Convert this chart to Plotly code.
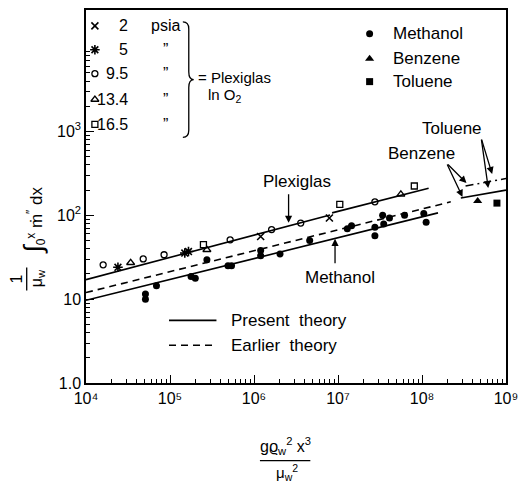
import plotly.graph_objects as go

# ---------------- data ----------------
# Plexiglas in O2, by pressure (psia)
plex_2_x = [1.2e6, 7.9e6]
plex_2_y = [56, 93]
plex_5_x = [2.4e4, 1.5e5, 1.66e5]
plex_5_y = [24, 35.5, 37]
plex_95_x = [1.6e4, 4.8e4, 8.5e4, 5.2e5, 1.62e6, 3.6e6, 2.75e7]
plex_95_y = [25.7, 30.2, 33.9, 51, 67.6, 81, 145]
plex_134_x = [3.4e4, 2.75e5, 5.6e7]
plex_134_y = [27.2, 38.9, 178]
plex_165_x = [2.5e5, 1.05e7, 8.1e7]
plex_165_y = [44.7, 135, 224]

# liquids
meth_x = [5.1e4, 5.1e4, 6.9e4, 1.78e5, 2.0e5, 2.75e5, 4.9e5, 5.4e5, 1.2e6, 1.2e6,
          2.04e6, 4.6e6, 1.29e7, 1.45e7, 2.75e7, 2.75e7, 3.4e7, 4.1e7, 3.5e7,
          6.2e7, 1.05e8, 1.12e8]
meth_y = [10, 11.5, 14.5, 18.6, 17.8, 29.5, 25.1, 25.1, 38, 33,
          34.7, 50, 69, 75, 72, 57, 100, 93, 79,
          100, 105, 83]
benz_x = [4.6e8]
benz_y = [148]
tol_x = [7.8e8]
tol_y = [140]

# theory lines (end points)
plex_present1_x = [1e4, 8.05e6]
plex_present1_y = [17.1, 101]
plex_present2_x = [8.5e6, 1.2e8]
plex_present2_y = [107, 211]
meth_present_x = [1e4, 1.55e8]
meth_present_y = [9.7, 107]
earlier_x = [1e4, 2.2e8]
earlier_y = [12, 145]
bt_present_x = [2.9e8, 1e9]
bt_present_y = [161, 200]
bt_earlier_x = [3.3e8, 1e9]
bt_earlier_y = [224, 275]

x_decades = [1e4, 1e5, 1e6, 1e7, 1e8, 1e9]
x_ticktext = ["10\u2074", "10\u2075", "10\u2076", "10\u2077", "10\u2078", "10\u2079"]
y_decades = [1, 10, 100, 1000]
y_ticktext = ["1.0", "10", "10<sup>2</sup>", "10<sup>3</sup>"]

psia_labels = ["2", "5", "9.5", "13.4", "16.5"]
psia_units = ["psia", "\u201d", "\u201d", "\u201d", "\u201d"]
liquid_labels = ["Methanol", "Benzene", "Toluene"]
theory_labels = ["Present  theory", "Earlier  theory"]

# ---------------- styling / layout helpers ----------------
FONT = "Liberation Sans"
W, H = 526, 491
L, R, T, B = 86, 511, 8, 383  # frame in pixels
XR = [4, 9]        # log10 range of x
YR = [0, 4.45]     # log10 range of y


def px(x):
    return (x - L) / (R - L)


def py(y):
    return (B - y) / (B - T)


def key_x(p):  # pixel column -> axis value (for legend keys)
    return 10 ** (XR[0] + px(p) * (XR[1] - XR[0]))


def key_y(p):  # pixel row -> axis value (for legend keys)
    return 10 ** (YR[0] + py(p) * (YR[1] - YR[0]))


def minor_of(decades):
    return [d * k for d in decades for k in range(2, 10)]


fig = go.Figure()

line_solid = dict(color="black", width=1.6)
line_dash = dict(color="black", width=1.6, dash="7px,5px")
line_dashdot = dict(color="black", width=1.4, dash="8px,4px,2px,4px")

for xs, ys, ln in [
    (plex_present1_x, plex_present1_y, line_solid),
    (plex_present2_x, plex_present2_y, line_solid),
    (meth_present_x, meth_present_y, line_solid),
    (earlier_x, earlier_y, line_dash),
    (bt_present_x, bt_present_y, line_solid),
    (bt_earlier_x, bt_earlier_y, line_dashdot),
]:
    fig.add_trace(go.Scatter(x=xs, y=ys, mode="lines", line=ln,
                             showlegend=False, hoverinfo="skip"))

sym = {
    "p2": dict(symbol="x-thin", size=7, line=dict(width=1.6, color="black"), color="black"),
    "p5": dict(symbol="asterisk-open", size=8, line=dict(width=1.6, color="black"), color="black"),
    "p95": dict(symbol="circle-open", size=6, line=dict(width=1.3, color="black"), color="black"),
    "p134": dict(symbol="triangle-up-open", size=7, line=dict(width=1.3, color="black"), color="black"),
    "p165": dict(symbol="square-open", size=6, line=dict(width=1.3, color="black"), color="black"),
    "meth": dict(symbol="circle", size=7, color="black"),
    "benz": dict(symbol="triangle-up", size=8, color="black"),
    "tol": dict(symbol="square", size=7, color="black"),
}

for xs, ys, key in [
    (plex_2_x, plex_2_y, "p2"), (plex_5_x, plex_5_y, "p5"),
    (plex_95_x, plex_95_y, "p95"), (plex_134_x, plex_134_y, "p134"),
    (plex_165_x, plex_165_y, "p165"), (meth_x, meth_y, "meth"),
    (benz_x, benz_y, "benz"), (tol_x, tol_y, "tol"),
]:
    fig.add_trace(go.Scatter(x=xs, y=ys, mode="markers", marker=sym[key],
                             showlegend=False, hoverinfo="skip"))

# ---------------- legend keys ----------------
psia_key_y = [24, 48, 72, 98, 123]
for key, yk in zip(["p2", "p5", "p95", "p134", "p165"], psia_key_y):
    fig.add_trace(go.Scatter(x=[key_x(95)], y=[key_y(yk)], mode="markers", marker=sym[key],
                             showlegend=False, hoverinfo="skip"))
liq_key_y = [32, 57, 80]
for key, yk in zip(["meth", "benz", "tol"], liq_key_y):
    fig.add_trace(go.Scatter(x=[key_x(373)], y=[key_y(yk)], mode="markers", marker=sym[key],
                             showlegend=False, hoverinfo="skip"))
for yk, ln in [(320, line_solid), (345, line_dash)]:
    fig.add_trace(go.Scatter(x=[key_x(170), key_x(218)], y=[key_y(yk)] * 2, mode="lines",
                             line=ln, showlegend=False, hoverinfo="skip"))

ann = []


def text(x, y, s, size=16, xanchor="center", angle=0):
    ann.append(dict(x=px(x), y=py(y), xref="paper", yref="paper", text=s,
                    showarrow=False, xanchor=xanchor, yanchor="middle",
                    textangle=angle, font=dict(family=FONT, size=size, color="black")))


def arrow(hx, hy, tx, ty):
    ann.append(dict(x=px(hx), y=py(hy), xref="paper", yref="paper", text="",
                    showarrow=True, ax=tx - hx, ay=ty - hy, axref="pixel", ayref="pixel",
                    arrowhead=2, arrowsize=1.1, arrowwidth=1.3, arrowcolor="black",
                    standoff=0))


for lab, unit, yk in zip(psia_labels, psia_units, psia_key_y):
    text(131, yk, lab, size=16, xanchor="right")
    text(166, yk, unit, size=16)
text(197, 76, "= Plexiglas", size=15, xanchor="left")
text(207, 94, "ln O<sub>2</sub>", size=15, xanchor="left")
for lab, yk in zip(liquid_labels, liq_key_y):
    text(395, yk, lab, size=17, xanchor="left")
for lab, yk in zip(theory_labels, [320, 345]):
    text(231, yk, lab, size=17, xanchor="left")

text(300, 180, "Plexiglas", size=17)
arrow(291, 222, 291, 192)
text(343, 277, "Methanol", size=17)
arrow(338, 238, 338, 264)
text(425, 152, "Benzene", size=17)
arrow(471, 182, 451, 162)
arrow(467, 196, 451, 162)
text(456, 127, "Toluene", size=17)
arrow(497, 173, 486, 137)
arrow(493, 187, 486, 137)

# x-axis title as a fraction
text(288, 446, "g\u03f1<sub>w</sub><sup>2</sup> x<sup>3</sup>", size=16)
text(289, 473, "\u03bc<sub>w</sub><sup>2</sup>", size=15)
# y-axis title (rotated)
text(16, 278, "1", size=16, angle=-90)
text(37, 278, "\u03bc<sub>w</sub>", size=16, angle=-90)
text(33, 220, "<span style='font-size:26px'>\u222b</span><sub>0</sub><sup>x</sup> "
     "\u1e41<sup>\u2033</sup> dx", size=17, angle=-90)


def brace_path():
    pts = [("M", 184, 20), ("Q", 190, 20, 190, 27), ("L", 190, 70),
           ("Q", 190, 78, 195, 78), ("Q", 190, 78, 190, 86), ("L", 190, 129),
           ("Q", 190, 136, 184, 136)]
    out = []
    for p in pts:
        cmd, coords = p[0], p[1:]
        conv = []
        for i in range(0, len(coords), 2):
            conv.append(f"{px(coords[i]):.5f},{py(coords[i + 1]):.5f}")
        out.append(cmd + " " + " ".join(conv))
    return " ".join(out)


shapes = [
    dict(type="line", xref="paper", yref="paper", x0=px(262), x1=px(313),
         y0=py(461), y1=py(461), line=dict(color="black", width=1.3)),
    dict(type="line", xref="paper", yref="paper", x0=px(26), x1=px(26),
         y0=py(267), y1=py(290), line=dict(color="black", width=1.3)),
    dict(type="path", xref="paper", yref="paper", path=brace_path(),
         line=dict(color="black", width=1.3)),
]

axis_common = dict(
    type="log", showgrid=False, zeroline=False, showline=True, linecolor="black",
    linewidth=1.5, mirror=True, ticks="inside", ticklen=8, tickwidth=1.3,
    tickcolor="black", tickfont=dict(family=FONT, size=16, color="black"),
    ticklabeloverflow="allow",
)
minor_common = dict(ticks="inside", ticklen=4, tickwidth=1, tickcolor="black",
                    showgrid=False, tickmode="array")

fig.update_layout(
    width=W, height=H,
    margin=dict(l=L, r=W - R, t=T, b=H - B),
    plot_bgcolor="white",
    xaxis=dict(range=XR, tickmode="array", tickvals=x_decades, ticktext=x_ticktext,
               minor=dict(tickvals=minor_of(x_decades[:-1]), **minor_common),
               **axis_common),
    yaxis=dict(range=YR, tickmode="array", tickvals=y_decades, ticktext=y_ticktext,
               minor=dict(tickvals=minor_of(y_decades), **minor_common),
               **axis_common),
    annotations=ann, shapes=shapes, showlegend=False,
)

fig.write_html("out.html", config={"displayModeBar": False},
               post_script="document.body.style.margin='0px';")
